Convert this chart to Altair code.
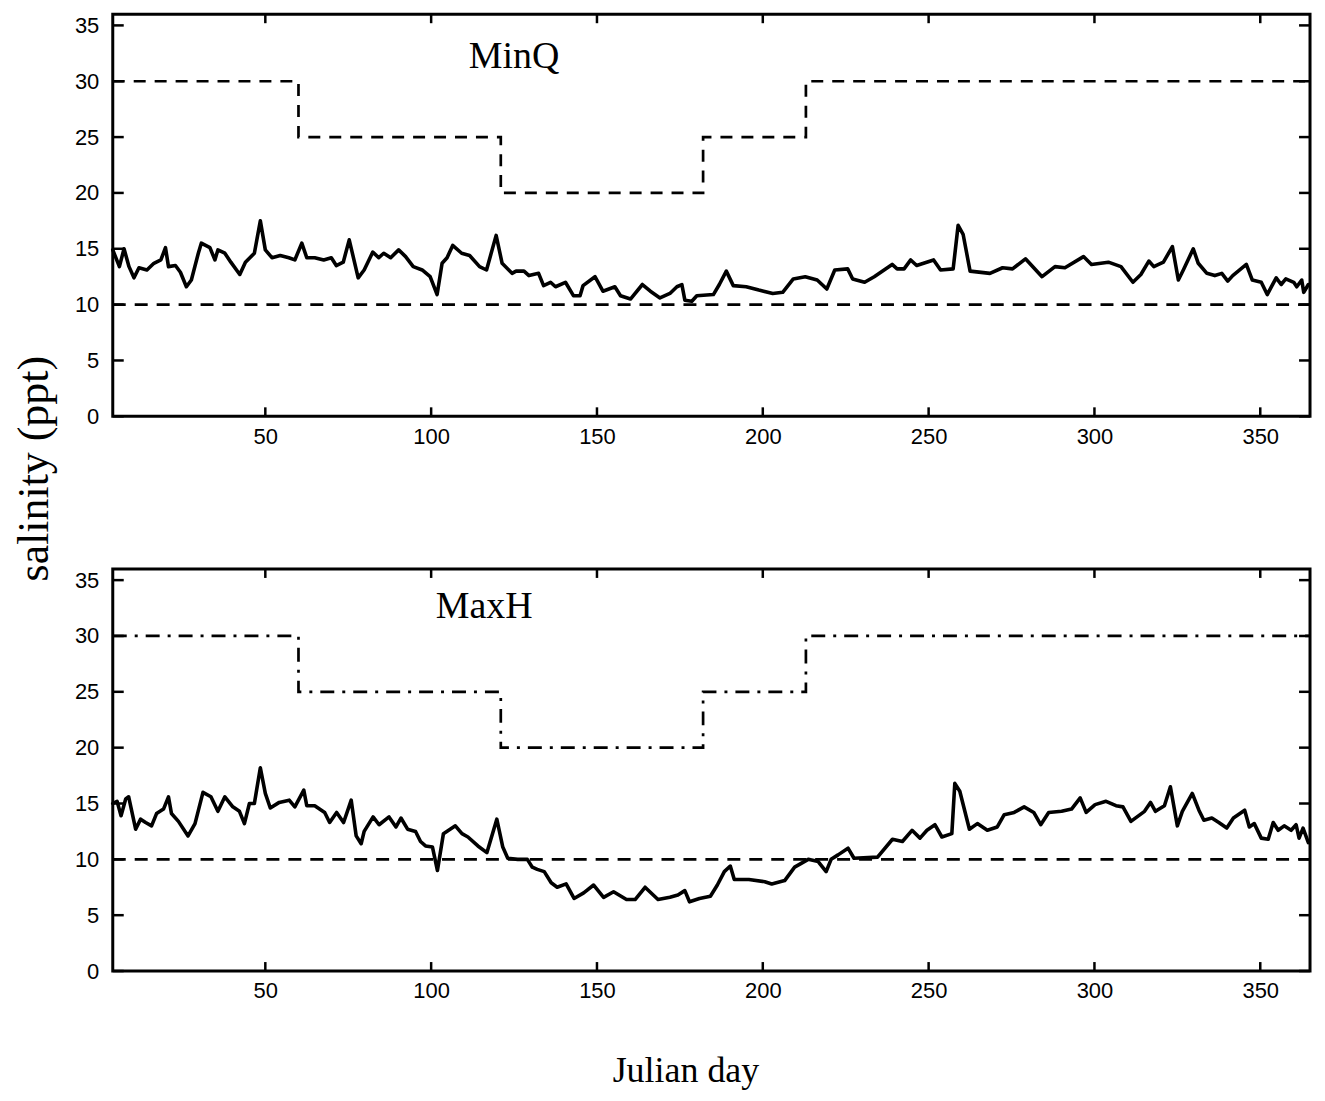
import altair as alt
import pandas as pd

# ---------------- data ----------------
top_days = [4, 6, 7.4, 8.9, 10.4, 11.9, 14.3, 16.4, 18.5, 19.9, 20.8, 22.9, 24.4, 26.2, 27.7,
            29.8, 30.7, 33.3, 34.8, 35.7, 37.8, 39.6, 42.3, 44, 46.7, 48.5, 50, 52, 54.5,
            57.1, 58.9, 61, 62.5, 64.9, 67.6, 69.9, 71.4, 73.5, 75.3, 78, 79.8, 82.4, 84.2,
            85.7, 87.8, 90.2, 92.3, 94.6, 97.3, 99.7, 101.8, 103.3, 104.8, 106.5, 109.2,
            111.6, 114.6, 116.7, 119.6, 121.4, 124.4, 125.6, 128, 129.5, 132.4, 133.9, 136,
            137.5, 140.5, 142.9, 144.9, 145.8, 149.4, 151.8, 155.4, 157.1, 160.1, 163.7,
            166.1, 169, 172, 174.1, 175.6, 176.5, 178.6, 180.1, 185.1, 186.9, 189, 191.1,
            195, 198.8, 203, 206, 209.2, 212.8, 216.4, 219.3, 221.7, 225.6, 227.1, 230.7,
            233.6, 239, 240.5, 242.6, 244.6, 246.4, 251.5, 253.6, 257.4, 258.9, 260.4,
            262.5, 268.5, 272.3, 275.3, 279.2, 284.2, 288.1, 291.1, 296.7, 299.1, 304.2,
            308, 311.6, 314, 316.4, 317.9, 320.8, 323.5, 325.3, 326.8, 329.8, 331.3, 333.9,
            336.3, 338.4, 340.2, 341.7, 345.8, 347.6, 350.3, 352.1, 354.8, 356.3, 357.7,
            360.1, 361, 362.5, 363.1, 364.5]
top_sal = [14.9, 13.4, 15.0, 13.4, 12.4, 13.3, 13.1, 13.7, 14.0, 15.1, 13.4, 13.5, 12.9, 11.6, 12.2,
           14.6, 15.5, 15.1, 14.0, 14.9, 14.6, 13.8, 12.7, 13.8, 14.6, 17.5, 14.9, 14.2, 14.4,
           14.2, 14.0, 15.5, 14.2, 14.2, 14.0, 14.2, 13.5, 13.8, 15.8, 12.4, 13.1, 14.7, 14.2,
           14.6, 14.2, 14.9, 14.3, 13.4, 13.1, 12.5, 10.9, 13.7, 14.2, 15.3, 14.6,
           14.4, 13.4, 13.1, 16.2, 13.7, 12.8, 13.0, 13.0, 12.6, 12.8, 11.7, 12.0,
           11.6, 12.0, 10.8, 10.8, 11.7, 12.5, 11.2, 11.6, 10.8, 10.5, 11.8,
           11.2, 10.6, 11.0, 11.6, 11.8, 10.4, 10.3, 10.8, 10.9, 11.8, 13.0, 11.7,
           11.6, 11.3, 11.0, 11.1, 12.3, 12.5, 12.2, 11.4, 13.1, 13.2, 12.3, 12.0,
           12.5, 13.6, 13.2, 13.2, 14.0, 13.5, 14.0, 13.1, 13.2, 17.1, 16.3,
           13.0, 12.8, 13.3, 13.2, 14.1, 12.5, 13.4, 13.3, 14.3, 13.6, 13.8,
           13.4, 12.0, 12.7, 13.9, 13.4, 13.8, 15.2, 12.2, 13.1, 15.0, 13.7, 12.8,
           12.6, 12.8, 12.1, 12.6, 13.6, 12.2, 12.0, 10.9, 12.4, 11.8, 12.3,
           12.0, 11.6, 12.2, 11.1, 11.8]

bot_days = [4, 5.3, 6.5, 7.9, 8.8, 10.9, 12.4, 13.9, 15.7, 17.2, 19.3, 20.8, 21.7, 23.8, 26.7,
            28.8, 31.2, 33.6, 35.7, 37.8, 40.2, 42.2, 43.7, 45.2, 46.7, 48.5, 50, 51.5, 54.2,
            57.2, 58.9, 61.6, 62.5, 64.9, 67.9, 69.4, 71.5, 73.6, 75.9, 77.4, 78.9, 79.8,
            82.5, 84.3, 87.3, 89.4, 90.9, 92.9, 95.3, 96.8, 98.3, 100.4, 101.9, 103.7, 107.3,
            109.3, 111.1, 114.1, 116.8, 119.8, 121.6, 123.1, 126.1, 129, 130.5, 132, 134.1,
            136.2, 138, 140.7, 143.1, 146, 149, 152, 155, 158.9, 161.5, 164.5, 168.4, 172,
            174.4, 176.5, 177.9, 180.9, 184.2, 186.3, 188.4, 190.2, 191.4, 195.8, 200.6,
            202.7, 206.6, 209.6, 213.7, 216.7, 219.1, 220.6, 222.7, 225.7, 227.5, 234.6,
            239.1, 242.1, 245, 247.4, 249.5, 251.9, 254, 257, 257.9, 259.4, 262.3, 264.7,
            267.7, 270.7, 272.8, 275.8, 278.8, 281.7, 283.8, 286.2, 290.1, 293.1, 295.7,
            297.5, 300.2, 303.5, 306.5, 308.6, 311, 315.1, 316.9, 318.4, 321.1, 322.9, 325,
            326.5, 329.5, 331.5, 333, 335.4, 337.5, 339.9, 341.9, 345.3, 346.7, 348.2, 350.3,
            352.4, 353.9, 355.4, 357.2, 359.3, 360.8, 361.7, 362.9, 364.5]
bot_sal = [15.0, 15.2, 13.9, 15.4, 15.6, 12.7, 13.6, 13.3, 13.0, 14.1, 14.5, 15.6, 14.1, 13.4, 12.1,
           13.2, 16.0, 15.6, 14.3, 15.6, 14.7, 14.3, 13.2, 15.0, 15.0, 18.2, 15.9, 14.6, 15.1,
           15.3, 14.7, 16.2, 14.8, 14.8, 14.2, 13.3, 14.2, 13.3, 15.3, 12.1, 11.4, 12.5,
           13.8, 13.1, 13.8, 12.9, 13.7, 12.7, 12.5, 11.6, 11.2, 11.1, 9.0, 12.3, 13.0,
           12.3, 12.0, 11.2, 10.6, 13.6, 11.1, 10.1, 10.0, 10.0, 9.3, 9.1, 8.9,
           7.9, 7.5, 7.8, 6.5, 7.0, 7.7, 6.6, 7.1, 6.4, 6.4, 7.5, 6.4, 6.6,
           6.8, 7.2, 6.2, 6.5, 6.7, 7.7, 8.9, 9.4, 8.2, 8.2, 8.0,
           7.8, 8.1, 9.3, 10.0, 9.8, 8.9, 10.0, 10.4, 11.0, 10.1, 10.2,
           11.8, 11.6, 12.6, 11.9, 12.6, 13.1, 12.0, 12.3, 16.8, 16.1, 12.7, 13.2,
           12.6, 12.9, 14.0, 14.2, 14.7, 14.2, 13.1, 14.2, 14.3, 14.5, 15.5,
           14.2, 14.9, 15.2, 14.8, 14.7, 13.4, 14.3, 15.1, 14.3, 14.8, 16.5, 13.0,
           14.3, 15.9, 14.4, 13.5, 13.7, 13.3, 12.8, 13.7, 14.4, 12.9, 13.2, 11.9,
           11.8, 13.3, 12.6, 13.0, 12.6, 13.1, 11.9, 12.8, 11.5]

step_days = [4, 60, 121, 182, 213, 365]
step_sal = [30, 25, 20, 25, 30, 30]
base_days = [4, 365]
base_sal = [10, 10]

x_tick_values = [50, 100, 150, 200, 250, 300, 350]
y_tick_values = [0, 5, 10, 15, 20, 25, 30, 35]

panel_names = ["MinQ", "MaxH"]
panel_label_day = [125, 116]
panel_label_sal = [32.2, 32.6]

y_title = "salinity (ppt)"
x_title = "Julian day"

# ---------------- chart ----------------
X_DOMAIN = [4, 365]
Y_DOMAIN = [0, 36]
W = 1200
SANS = "Liberation Sans"
SERIF = "Liberation Serif"

xs = alt.Scale(domain=X_DOMAIN, nice=False, zero=False)
ys = alt.Scale(domain=Y_DOMAIN, nice=False, zero=False)


def panel(days, sal, dash, name, lday, lsal, h, top):
    df = pd.DataFrame({"day": days, "sal": sal})
    sdf = pd.DataFrame({"day": step_days, "sal": step_sal})
    bdf = pd.DataFrame({"day": base_days, "sal": base_sal})
    ldf = pd.DataFrame({"day": [lday], "sal": [lsal], "name": [name]})
    xt = pd.DataFrame({"day": x_tick_values})
    yt = pd.DataFrame({"sal": y_tick_values})

    xaxis_kw = dict(values=x_tick_values, format="d", labelFont=SANS, labelFontSize=22,
                    labelPadding=10, ticks=False, domain=False, grid=False,
                    labelColor="black", labelFlush=False)
    yaxis_kw = dict(values=y_tick_values, format="d", labelFont=SANS, labelFontSize=22,
                    labelPadding=14, ticks=False, domain=False, grid=False,
                    labelColor="black")
    if top:
        yaxis = alt.Axis(title=y_title, titleFont=SERIF, titleFontSize=44,
                         titleFontWeight="normal", titleColor="black",
                         titleX=-78, titleY=455, titleAngle=270,
                         titleBaseline="middle", titleAlign="center", **yaxis_kw)
        xaxis = alt.Axis(title="", **xaxis_kw)
    else:
        yaxis = alt.Axis(title="", **yaxis_kw)
        xaxis = alt.Axis(title=x_title, titleFont=SERIF, titleFontSize=36,
                         titleFontWeight="normal", titleColor="black",
                         titleX=574, titleY=100, titleBaseline="middle",
                         titleAlign="center", **xaxis_kw)

    X = alt.X("day:Q", scale=xs, axis=xaxis)
    Y = alt.Y("sal:Q", scale=ys, axis=yaxis)

    main = alt.Chart(df).mark_line(color="black", strokeWidth=3.6,
                                   strokeJoin="round", strokeCap="round").encode(x=X, y=Y)
    step = alt.Chart(sdf).mark_line(color="black", strokeWidth=2.7, interpolate="step-after",
                                    strokeDash=dash).encode(x=X, y=Y)
    base = alt.Chart(bdf).mark_line(color="black", strokeWidth=2.7,
                                    strokeDash=[13, 9]).encode(x=X, y=Y)
    label = alt.Chart(ldf).mark_text(font=SERIF, fontSize=38, color="black",
                                     align="center", baseline="middle").encode(
        x=X, y=Y, text="name:N")
    tick_len = 9
    xb = alt.Chart(xt).mark_rule(color="black", strokeWidth=2.5).encode(
        x=X, y=alt.value(h), y2=alt.value(h - tick_len))
    xtp = alt.Chart(xt).mark_rule(color="black", strokeWidth=2.5).encode(
        x=X, y=alt.value(0), y2=alt.value(tick_len))
    yl = alt.Chart(yt).mark_rule(color="black", strokeWidth=2.5).encode(
        y=Y, x=alt.value(0), x2=alt.value(tick_len + 2))
    yr = alt.Chart(yt).mark_rule(color="black", strokeWidth=2.5).encode(
        y=Y, x=alt.value(W), x2=alt.value(W - tick_len - 2))

    return alt.layer(main, step, base, label, xb, xtp, yl, yr).properties(width=W, height=h)


top_panel = panel(top_days, top_sal, [12, 9], panel_names[0], panel_label_day[0],
                  panel_label_sal[0], 403, True)
bot_panel = panel(bot_days, bot_sal, [14, 8, 3, 8], panel_names[1], panel_label_day[1],
                  panel_label_sal[1], 403, False)

chart = alt.vconcat(top_panel, bot_panel, spacing=153, bounds="flush").properties(
    padding={"left": 3, "top": 2, "right": 0, "bottom": 0},
    background="white",
).configure_view(stroke="black", strokeWidth=3)

chart.save("out.html", embed_options={"renderer": "svg", "actions": False})
